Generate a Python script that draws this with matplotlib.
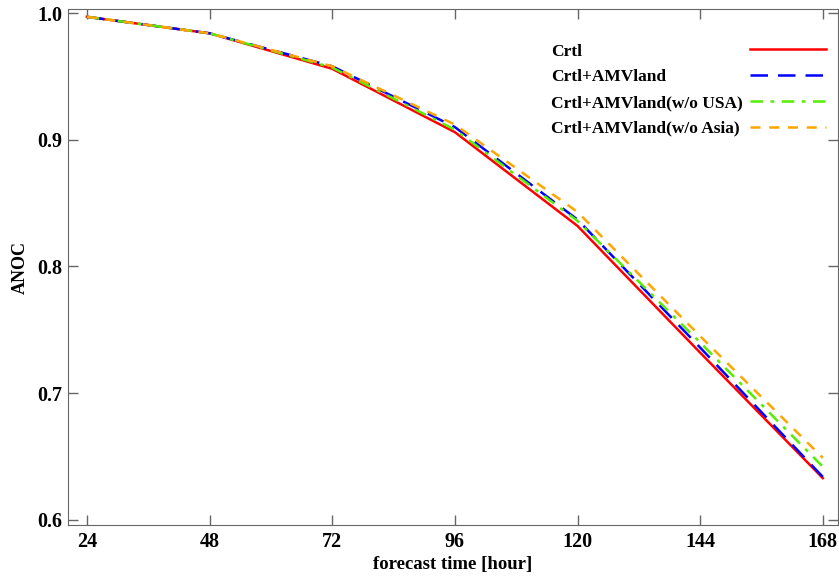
import matplotlib
matplotlib.use("Agg")
import matplotlib.pyplot as plt

hours = [24, 48, 72, 96, 120, 144, 168]
crtl = [0.997, 0.984, 0.956, 0.906, 0.832, 0.732, 0.633]
amv_land = [0.997, 0.984, 0.958, 0.910, 0.837, 0.736, 0.634]
amv_no_usa = [0.997, 0.984, 0.957, 0.908, 0.836, 0.740, 0.642]
amv_no_asia = [0.997, 0.984, 0.958, 0.912, 0.843, 0.745, 0.649]

plt.rcParams['font.family'] = ['Liberation Serif', 'DejaVu Serif']
plt.rcParams['font.weight'] = 'bold'

fig = plt.figure(figsize=(8.39, 5.76), dpi=100)
ax = fig.add_axes([0.081, 0.0885, 0.918, 0.8955])

ax.plot(hours, crtl, color='red', lw=1.8, ls='-', label='Crtl')
ax.plot(hours, amv_land, color='blue', lw=1.8, ls=(0, (7, 4)), label='Crtl+AMVland')
ax.plot(hours, amv_no_usa, color='#55ee00', lw=1.8, ls=(0, (5, 3, 1.5, 3)), label='Crtl+AMVland(w/o USA)')
ax.plot(hours, amv_no_asia, color='orange', lw=1.8, ls=(0, (4, 3.5)), label='Crtl+AMVland(w/o Asia)')

ax.set_xlim(20.3, 171)
ax.set_ylim(0.596, 1.003)
ax.set_xticks(hours)
ax.set_yticks([0.6, 0.7, 0.8, 0.9, 1.0])
ax.set_yticklabels(['0.6', '0.7', '0.8', '0.9', '1.0'])

for s in ax.spines.values():
    s.set_color('#666666')
ax.tick_params(direction='in', length=7, width=1, color='#666666',
               top=True, right=True, labelsize=14.5)
ax.tick_params(axis='x', pad=5)
ax.tick_params(axis='y', pad=4)
ax.set_xlabel('forecast time [hour]', fontsize=13.5, fontweight='bold', labelpad=3)
ax.set_ylabel('ANOC', fontsize=13, fontweight='bold', labelpad=6)

leg = ax.legend(loc='upper right', bbox_to_anchor=(1.005, 0.964), frameon=False,
                markerfirst=False, handlelength=4.4, handletextpad=0.4,
                labelspacing=0.55, prop={'size': 12.5, 'weight': 'bold'})

# left-align the labels: pad each entry so the handles stay in one column
fig.canvas.draw()
r = fig.canvas.get_renderer()
widths = [t.get_window_extent(r).width for t in leg.get_texts()]
wmax = max(widths)
col = leg._legend_handle_box.get_children()[0]
for entry, w in zip(col.get_children(), widths):
    entry.sep += (wmax - w) * 72.0 / fig.dpi

fig.savefig('out.png', dpi=100)
